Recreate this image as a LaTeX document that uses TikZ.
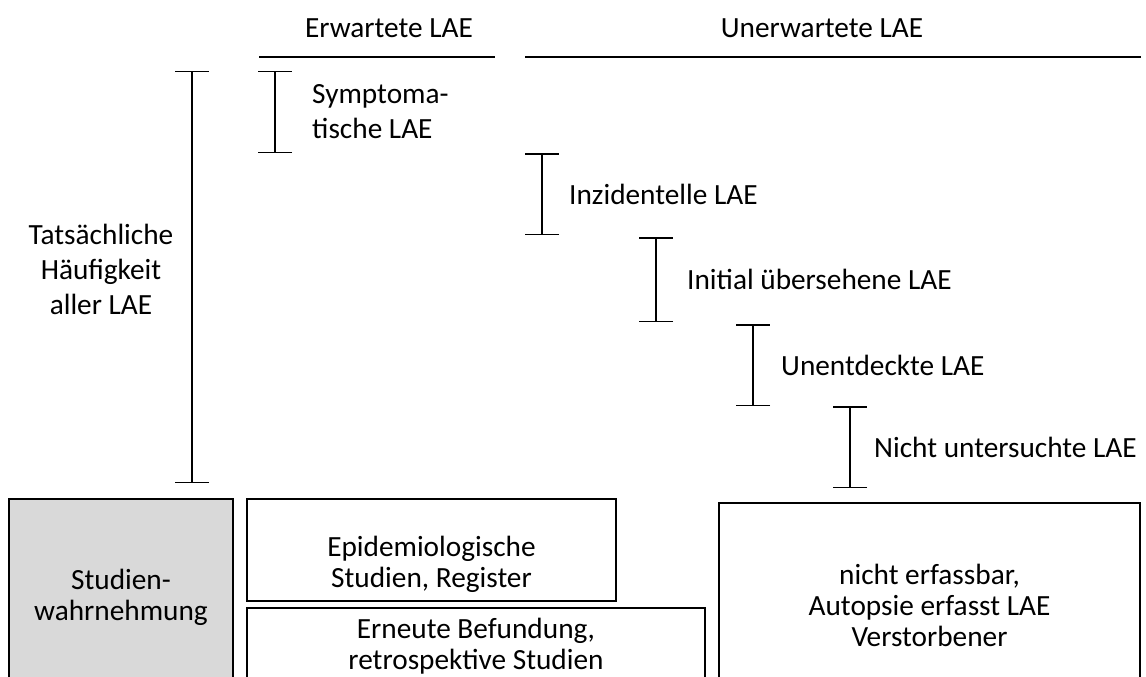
\documentclass[tikz,border=0pt]{standalone}
\usepackage{fontspec}
\setmainfont{Carlito}
\usetikzlibrary{arrows.meta, positioning, calc}
\definecolor{boxgray}{HTML}{D9D9D9}
\newcommand{\laefont}{\fontsize{29.3}{31}\selectfont}
\newcommand{\laewide}{\fontsize{29.3}{35}\selectfont}
\tikzset{
  x=1pt, y=-1pt,
  rule/.style={line width=1.5pt},
  span/.style={line width=1.5pt, {Bar[width=34pt]}-{Bar[width=34pt]}},
  lbl/.style={font=\laefont, inner sep=0pt, align=left},
  box/.style={draw, line width=1.5pt, inner sep=0pt, font=\laefont, align=center},
}

\begin{document}
\begin{tikzpicture}
  \useasboundingbox (0,0) rectangle (1146,677);
  \clip (0,0) rectangle (1146,677);

  % Kopf
  \node[lbl] (erw) at (389,28) {Erwartete LAE};
  \node[lbl] (unerw) at (822,28) {Unerwartete LAE};
  \draw[rule] (259,57) -- (495,57);
  \draw[rule] (525,57) -- (1141,57);

  % alle LAE
  \coordinate (alltop) at (192,71);
  \coordinate (allbot) at (192,483);
  \draw[span] (alltop) -- (allbot);
  \node[lbl, font=\laewide, align=center] (all) at (101,269) {Tatsächliche\\Häufigkeit\\aller LAE};

  % Stufen
  \foreach \name/\x/\t/\b/\dx/\txt in {
      sym/275/71/153/37/{Symptoma-\\tische LAE},
      inz/542/153/235/27/{Inzidentelle LAE},
      ini/656/237/322/31/{Initial übersehene LAE},
      unent/753/324/406/28/{Unentdeckte LAE},
      nicht/850/406/488/24/{Nicht untersuchte LAE}} {
    \coordinate (\name top) at (\x,\t);
    \coordinate (\name bot) at (\x,\b);
    \coordinate (\name mid) at ($(\name top)!0.5!(\name bot)$);
    \draw[span] (\name top) -- (\name bot);
    \node[lbl, font=\laewide, right=\dx pt of \name mid] (\name) {\txt};
  }

  % Studien
  \node[box, fill=boxgray, minimum width=224, minimum height=196] (wahr) at (121,597) {Studien-\\wahrnehmung};
  \node[box, minimum width=369, minimum height=102] (epi) at (431.5,550) {};
  \node[lbl, align=center] (epitxt) at ([yshift=-14pt]epi.center) {Epidemiologische\\Studien, Register};
  \node[box, minimum width=458, minimum height=76] (befund) at (476,646) {Erneute Befundung,\\retrospektive Studien};
  \node[box, minimum width=421, minimum height=204] (autop) at (929.5,605) {nicht erfassbar,\\Autopsie erfasst LAE\\Verstorbener};
\end{tikzpicture}
\end{document}
